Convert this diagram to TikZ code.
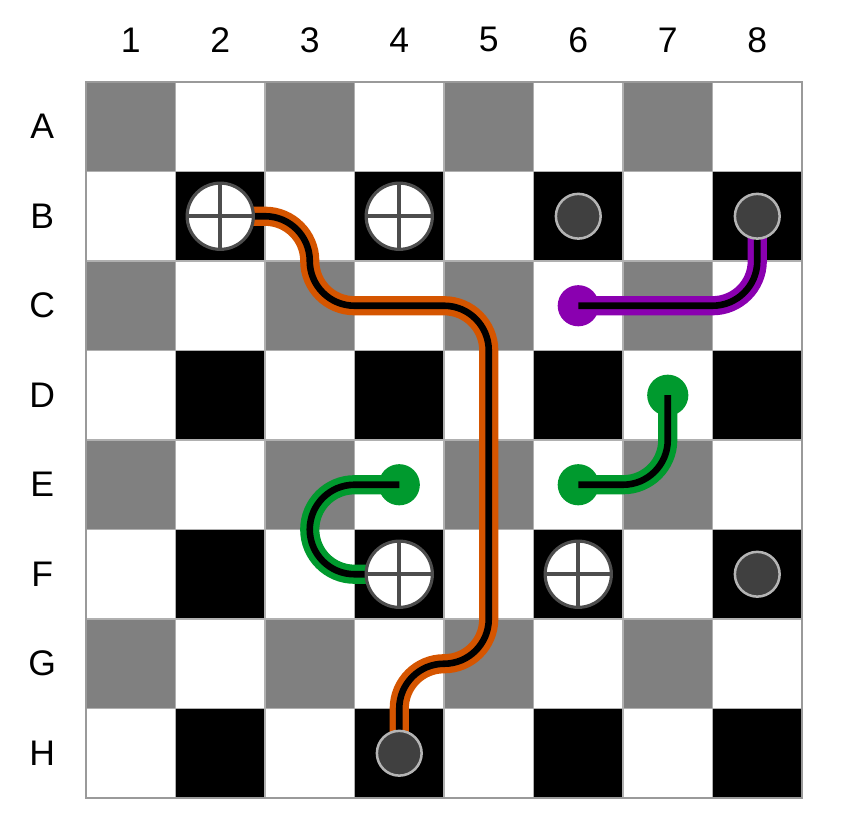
\documentclass[tikz,border=0pt]{standalone}
\usepackage{fontspec}
\setmainfont{Liberation Sans}
\usepackage{xcolor}
\usepackage{tikz}
\usetikzlibrary{calc}

\definecolor{cellgray}{HTML}{808080}
\definecolor{gridgray}{HTML}{B0B0B0}
\definecolor{edgegray}{HTML}{9A9A9A}
\definecolor{ringgray}{HTML}{4D4D4D}
\definecolor{stonegray}{HTML}{404040}
\definecolor{stoneedge}{HTML}{B4B4B4}
\definecolor{wireorange}{HTML}{D55500}
\definecolor{wirepurple}{HTML}{8A00B0}
\definecolor{wiregreen}{HTML}{009A2E}

\tikzset{
  coord text/.style={font=\fontsize{11.3}{13}\selectfont},
  ring piece/.style={circle, draw=ringgray, line width=1pt, fill=white, minimum size=0.74cm, inner sep=0pt},
  ring cross/.style={draw=ringgray, line width=1.2pt},
  stone piece/.style={circle, draw=stoneedge, line width=0.8pt, fill=stonegray, minimum size=0.5cm, inner sep=0pt},
  wire end/.style={circle, fill=#1, minimum size=0.46cm, inner sep=0pt},
  wire/.style={preaction={draw=#1, line width=6.1pt}, draw=black, line width=2.1pt},
}

\begin{document}
\begin{tikzpicture}
    \useasboundingbox (-0.961, 0.916) rectangle (8.469, -8.458);

    % Squares
    \foreach \i in {1,3,5,7}
        \foreach \c in {1,3,5,7}
            \fill [cellgray] (\c-1, 1-\i) rectangle ++(1,-1);
    \foreach \i in {2,4,6,8}
        \foreach \c in {2,4,6,8}
            \fill [black] (\c-1, 1-\i) rectangle ++(1,-1);
    \draw [gridgray, line width=0.5pt] (0,-8) grid (8,0);
    \draw [edgegray, line width=0.8pt] (0,0) rectangle (8,-8);

    % Cell centres
    \foreach \r [count=\i] in {A,B,C,D,E,F,G,H}
        \foreach \c in {1,...,8}
            \coordinate (\r\c) at (\c-0.5, 0.5-\i);

    % Labels
    \foreach \c in {1,...,8}
        \node [coord text] (col\c) at (\c-0.5, 0.47) {\c};
    \foreach \r [count=\i] in {A,B,C,D,E,F,G,H}
        \node [coord text] (row\r) at (-0.49, 0.5-\i) {\r};

    % Wire ends
    \node [wire end=wirepurple] (endC6) at (C6) {};
    \node [wire end=wiregreen] (endE4) at (E4) {};
    \node [wire end=wiregreen] (endE6) at (E6) {};
    \node [wire end=wiregreen] (endD7) at (D7) {};

    % Wires
    \draw [wire=wireorange] (B2) -- ++(0.5,0)
        arc [start angle=90, end angle=0, radius=0.5]
        arc [start angle=180, end angle=270, radius=0.5] -- ++(1,0)
        arc [start angle=90, end angle=0, radius=0.5] -- ++(0,-3)
        arc [start angle=0, end angle=-90, radius=0.5]
        arc [start angle=90, end angle=180, radius=0.5] -- (H4);
    \draw [wire=wirepurple] (endC6.center) -- ++(1.5,0)
        arc [start angle=-90, end angle=0, radius=0.5] -- (B8);
    \draw [wire=wiregreen] (endE4.center) -- ++(-0.5,0)
        arc [start angle=90, end angle=270, radius=0.5] -- (F4);
    \draw [wire=wiregreen] (endE6.center) -- ++(0.5,0)
        arc [start angle=-90, end angle=0, radius=0.5] -- (endD7.center);

    % Pieces
    \foreach \p in {B2,B4,F4,F6} {
        \node [ring piece] (ring\p) at (\p) {};
        \draw [ring cross] (ring\p.north) -- (ring\p.south) (ring\p.west) -- (ring\p.east);
    }
    \foreach \p in {B6,B8,F8,H4}
        \node [stone piece] (stone\p) at (\p) {};
\end{tikzpicture}
\end{document}
